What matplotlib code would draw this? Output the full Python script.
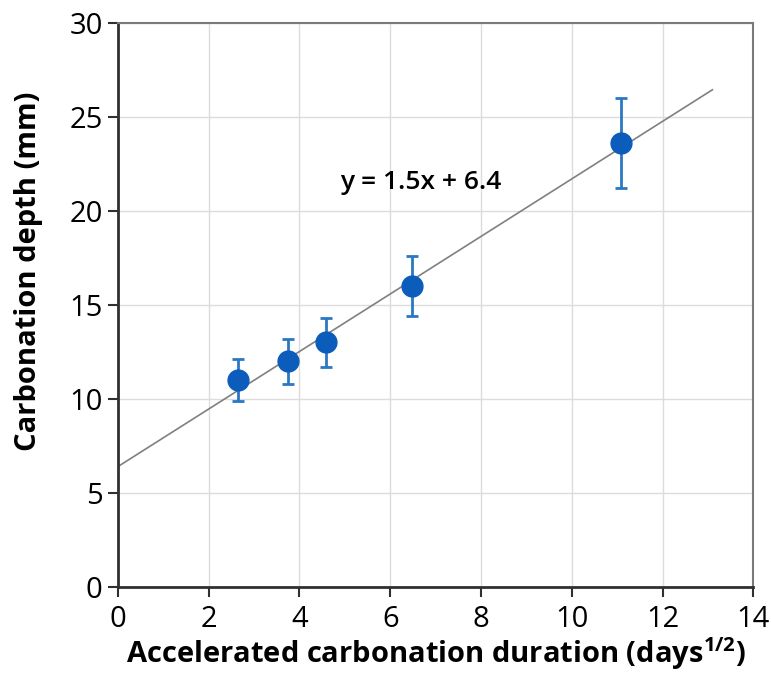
import numpy as np
import matplotlib
matplotlib.use("Agg")
import matplotlib.pyplot as plt

# data
duration = [2.65, 3.74, 4.58, 6.48, 11.09]      # days^(1/2)
depth = [11.0, 12.0, 13.0, 16.0, 23.6]           # mm
err_low = [1.1, 1.2, 1.3, 1.6, 2.4]
err_high = [1.1, 1.2, 1.3, 1.6, 2.4]

fit_slope = 1.53
fit_intercept = 6.4
fit_xmax = 13.1
fit_label = "y = 1.5x + 6.4"

xticks = [0, 2, 4, 6, 8, 10, 12, 14]
yticks = [0, 5, 10, 15, 20, 25, 30]

plt.rcParams['font.family'] = ['Open Sans', 'DejaVu Sans']
plt.rcParams['mathtext.fontset'] = 'custom'
plt.rcParams['mathtext.rm'] = 'Open Sans'
plt.rcParams['mathtext.bf'] = 'Open Sans:bold'

fig = plt.figure(figsize=(7.71, 6.73), dpi=100)
ax = fig.add_axes([0.153, 0.128, 0.824, 0.838])

ax.set_xlim(0, 14)
ax.set_ylim(0, 30)
ax.set_xticks(xticks)
ax.set_yticks(yticks)
ax.grid(True, color='#dcdcdc', linewidth=1)
ax.set_axisbelow(True)

# trend line
fx = np.array([0, fit_xmax])
ax.plot(fx, fit_slope * fx + fit_intercept, color='#808080', linewidth=1.2, zorder=2)

ax.errorbar(duration, depth, yerr=[err_low, err_high], fmt='none',
            ecolor='#2a78c2', elinewidth=2, capsize=4, capthick=2, zorder=3)
ax.plot(duration, depth, 'o', color='#0b5cbb', markersize=15, zorder=4)

ax.text(4.9, 21.5, fit_label, fontsize=19, fontweight='semibold', va='center', ha='left')

for s in ['left', 'bottom']:
    ax.spines[s].set_color('#303030')
    ax.spines[s].set_linewidth(2)
for s in ['top', 'right']:
    ax.spines[s].set_color('#7a7a7a')
    ax.spines[s].set_linewidth(1.5)

ax.tick_params(direction='out', length=7, width=1.5, color='#303030', labelsize=21)
ax.tick_params(axis='x', pad=6)
ax.tick_params(axis='y', pad=4)

ax.set_xlabel("Accelerated carbonation duration (days$^{\\mathbf{1/2}}$)",
              fontsize=21, fontweight='bold', labelpad=1)
ax.set_ylabel("Carbonation depth (mm)", fontsize=21, fontweight='bold')
ax.yaxis.set_label_coords(-0.118, 0.56)

fig.savefig("out.png", dpi=100)
